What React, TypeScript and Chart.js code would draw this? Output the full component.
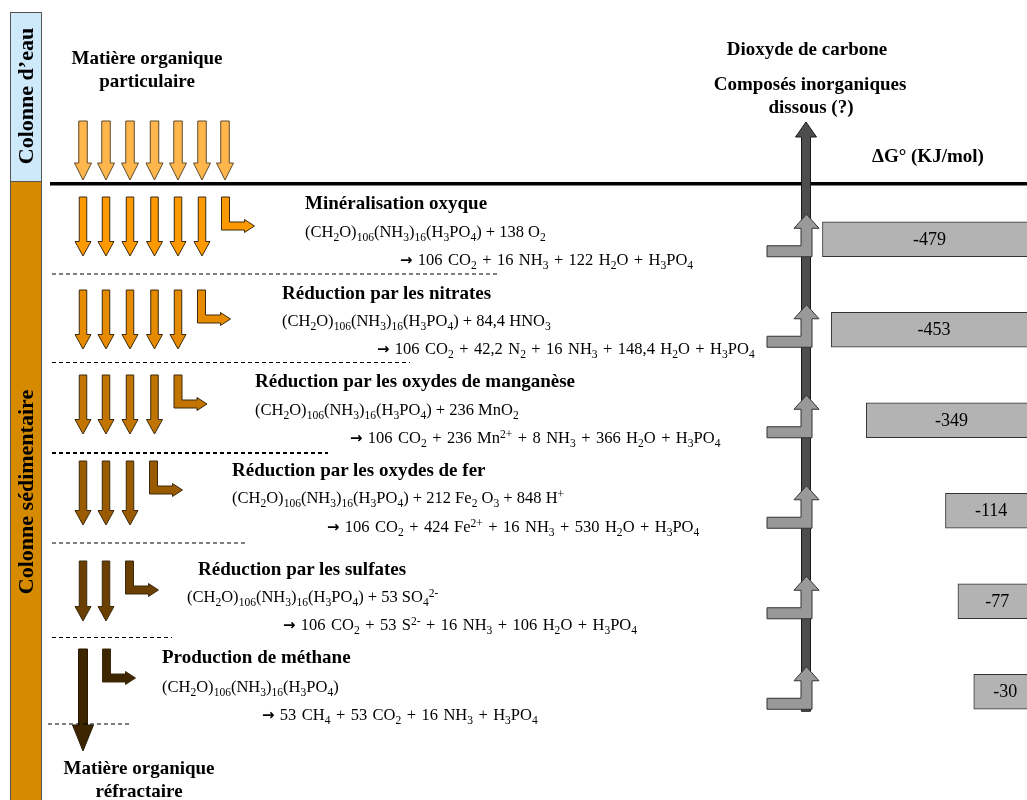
import React, { useEffect, useRef } from 'react';
import { Chart, registerables } from 'chart.js';

Chart.register(...registerables);

// ---------- DATA ----------
const processes = [
  'Minéralisation oxyque',
  'Réduction par les nitrates',
  'Réduction par les oxydes de manganèse',
  'Réduction par les oxydes de fer',
  'Réduction par les sulfates',
  'Production de méthane',
];
const deltaG = [-479, -453, -349, -114, -77, -30];
const reactants = [
  '(CH_{2}O)_{106}(NH_{3})_{16}(H_{3}PO_{4}) + 138 O_{2}',
  '(CH_{2}O)_{106}(NH_{3})_{16}(H_{3}PO_{4}) + 84,4 HNO_{3}',
  '(CH_{2}O)_{106}(NH_{3})_{16}(H_{3}PO_{4}) + 236 MnO_{2}',
  '(CH_{2}O)_{106}(NH_{3})_{16}(H_{3}PO_{4}) + 212 Fe_{2} O_{3} + 848 H^{+}',
  '(CH_{2}O)_{106}(NH_{3})_{16}(H_{3}PO_{4}) + 53 SO_{4}^{2-}',
  '(CH_{2}O)_{106}(NH_{3})_{16}(H_{3}PO_{4})',
];
const products = [
  '→ 106 CO_{2} + 16 NH_{3} + 122 H_{2}O + H_{3}PO_{4}',
  '→ 106 CO_{2} + 42,2 N_{2} + 16 NH_{3} + 148,4 H_{2}O + H_{3}PO_{4}',
  '→ 106 CO_{2} + 236 Mn^{2+} + 8 NH_{3} + 366 H_{2}O + H_{3}PO_{4}',
  '→ 106 CO_{2} + 424 Fe^{2+} + 16 NH_{3} + 530 H_{2}O + H_{3}PO_{4}',
  '→ 106 CO_{2} + 53 S^{2-} + 16 NH_{3} + 106 H_{2}O + H_{3}PO_{4}',
  '→ 53 CH_{4} + 53 CO_{2} + 16 NH_{3} + H_{3}PO_{4}',
];
const arrowCounts = [6, 5, 4, 3, 2, 1];
const topArrowCount = 7;
const xAxisMin = -700;
const xAxisMax = 128;
const barBase = 157;

// ---------- LAYOUT / STYLE ----------
const W = 1027;
const H = 800;
const SERIF = '"Liberation Serif", "Times New Roman", Times, serif';
const ARROW_X = [83, 106, 130, 154.5, 178, 202, 225];
const ROW_TOP = [197, 290, 375, 461, 561, 649];
const ROW_LEN = [59, 59, 59, 64, 60, 102];
const ROW_COLORS = ['#ff9900', '#e68a00', '#c27400', '#9a5a00', '#6b3f02', '#3d2500'];
const TITLE_X = [305, 282, 255, 232, 198, 162];
const EQ1_X = [305, 282, 255, 232, 187, 162];
const EQ2_X = [400, 377, 350, 327, 283, 262];
const TITLE_Y = [202, 292, 380, 469, 568, 656];
const EQ1_Y = [232, 321, 410, 498, 597, 687];
const EQ2_Y = [260, 349, 438, 527, 625, 715];
const DASH_Y = [274, 362.5, 453, 543, 637.5, 724];
const DASH_X = [[52, 499], [52, 410], [52, 328], [52, 248], [52, 172], [48, 130]];
const DASH_W = [1, 1, 2, 1, 1, 1];

function downArrow(ctx: CanvasRenderingContext2D, cx: number, top: number, len: number, sw: number, hw: number, hl: number, fill: string, stroke: string) {
  const tip = top + len;
  const hb = tip - hl;
  ctx.beginPath();
  ctx.moveTo(cx - sw / 2, top);
  ctx.lineTo(cx + sw / 2, top);
  ctx.lineTo(cx + sw / 2, hb);
  ctx.lineTo(cx + hw / 2, hb);
  ctx.lineTo(cx, tip);
  ctx.lineTo(cx - hw / 2, hb);
  ctx.lineTo(cx - sw / 2, hb);
  ctx.closePath();
  ctx.fillStyle = fill;
  ctx.fill();
  ctx.strokeStyle = stroke;
  ctx.lineWidth = 1;
  ctx.stroke();
}

function lArrowRight(ctx: CanvasRenderingContext2D, left: number, top: number, fill: string, stroke: string) {
  const w = 8, h = 33, len = 33, hl = 10, hh = 13;
  const tipX = left + len;
  const midY = top + h - w / 2;
  ctx.beginPath();
  ctx.moveTo(left, top);
  ctx.lineTo(left + w, top);
  ctx.lineTo(left + w, top + h - w);
  ctx.lineTo(tipX - hl, top + h - w);
  ctx.lineTo(tipX - hl, midY - hh / 2);
  ctx.lineTo(tipX, midY);
  ctx.lineTo(tipX - hl, midY + hh / 2);
  ctx.lineTo(tipX - hl, top + h);
  ctx.lineTo(left, top + h);
  ctx.closePath();
  ctx.fillStyle = fill;
  ctx.fill();
  ctx.strokeStyle = stroke;
  ctx.lineWidth = 1;
  ctx.stroke();
}

function lArrowUp(ctx: CanvasRenderingContext2D, bottom: number) {
  ctx.beginPath();
  ctx.moveTo(767, bottom);
  ctx.lineTo(812, bottom);
  ctx.lineTo(812, bottom - 28.5);
  ctx.lineTo(819, bottom - 28.5);
  ctx.lineTo(806.5, bottom - 42.5);
  ctx.lineTo(794, bottom - 28.5);
  ctx.lineTo(801, bottom - 28.5);
  ctx.lineTo(801, bottom - 11);
  ctx.lineTo(767, bottom - 11);
  ctx.closePath();
  ctx.fillStyle = '#999999';
  ctx.fill();
  ctx.strokeStyle = '#333333';
  ctx.lineWidth = 1;
  ctx.stroke();
}

const diagramPlugin = {
  id: 'diagram',
  beforeDraw(chart: any) {
    const ctx: CanvasRenderingContext2D = chart.ctx;
    ctx.save();
    // columns
    ctx.fillStyle = '#cde9fa';
    ctx.fillRect(10.5, 12.5, 31, 169);
    ctx.strokeStyle = '#555';
    ctx.lineWidth = 1;
    ctx.strokeRect(10.5, 12.5, 31, 169);
    ctx.fillStyle = '#d68a00';
    ctx.fillRect(10.5, 181.5, 31, 640);
    ctx.strokeRect(10.5, 181.5, 31, 640);
    // surface line
    ctx.fillStyle = '#000';
    ctx.fillRect(50, 182, W - 50, 3.5);
    // top arrows
    for (let i = 0; i < topArrowCount; i++) {
      downArrow(ctx, ARROW_X[i], 121, 59, 8.5, 17, 17, '#ffb74d', '#5c4a2a');
    }
    // rows
    for (let r = 0; r < arrowCounts.length; r++) {
      const n = arrowCounts[r];
      const last = r === arrowCounts.length - 1;
      for (let i = 0; i < n; i++) {
        if (last) downArrow(ctx, ARROW_X[i], ROW_TOP[r], ROW_LEN[r], 9, 21, 26, ROW_COLORS[r], '#2a1a05');
        else downArrow(ctx, ARROW_X[i], ROW_TOP[r], ROW_LEN[r], 7.5, 16, 14.5, ROW_COLORS[r], '#3a2a10');
      }
      lArrowRight(ctx, ARROW_X[n - 1] + 19.5, ROW_TOP[r], ROW_COLORS[r], '#3a2a10');
      // dashed separator
      ctx.beginPath();
      ctx.setLineDash([4, 3]);
      ctx.lineWidth = DASH_W[r];
      ctx.strokeStyle = '#000';
      ctx.moveTo(DASH_X[r][0], DASH_Y[r]);
      ctx.lineTo(DASH_X[r][1], DASH_Y[r]);
      ctx.stroke();
      ctx.setLineDash([]);
    }
    // big CO2 arrow
    const yScale = chart.scales.y;
    const half = 17.5;
    const lastBottom = yScale.getPixelForValue(deltaG.length - 1) + half;
    ctx.beginPath();
    ctx.moveTo(801.5, lastBottom + 2);
    ctx.lineTo(810.5, lastBottom + 2);
    ctx.lineTo(810.5, 137);
    ctx.lineTo(816.5, 137);
    ctx.lineTo(806, 122);
    ctx.lineTo(795.5, 137);
    ctx.lineTo(801.5, 137);
    ctx.closePath();
    ctx.fillStyle = '#4d4d4d';
    ctx.fill();
    ctx.strokeStyle = '#1a1a1a';
    ctx.lineWidth = 1;
    ctx.stroke();
    for (let i = 0; i < deltaG.length; i++) {
      lArrowUp(ctx, yScale.getPixelForValue(i) + half);
    }
    ctx.restore();
  },
  afterDatasetsDraw(chart: any) {
    const ctx: CanvasRenderingContext2D = chart.ctx;
    const meta = chart.getDatasetMeta(0);
    ctx.save();
    ctx.font = `18px ${SERIF}`;
    ctx.fillStyle = '#000';
    ctx.textAlign = 'center';
    ctx.textBaseline = 'middle';
    meta.data.forEach((el: any, i: number) => {
      const p = el.getProps(['x', 'y', 'base'], true);
      ctx.fillText(String(deltaG[i]), (p.x + p.base) / 2, p.y + 1);
    });
    ctx.restore();
  },
};

function chem(s: string) {
  const parts = s.split(/(_\{[^}]*\}|\^\{[^}]*\}|→)/).filter((p) => p !== '');
  return parts.map((p, i) => {
    if (p === '→')
      return (
        <span key={i} style={{ fontFamily: '"DejaVu Sans", sans-serif', fontWeight: 700, fontSize: '0.9em' }}>
          →
        </span>
      );
    if (p.startsWith('_{'))
      return (
        <span key={i} style={{ fontSize: '0.7em', position: 'relative', top: '0.32em' }}>
          {p.slice(2, -1)}
        </span>
      );
    if (p.startsWith('^{'))
      return (
        <span key={i} style={{ fontSize: '0.7em', position: 'relative', top: '-0.45em' }}>
          {p.slice(2, -1)}
        </span>
      );
    return <span key={i}>{p}</span>;
  });
}

function Txt(props: { x: number; y: number; size: number; bold?: boolean; center?: boolean; wordSpacing?: number; children: any }) {
  const { x, y, size, bold, center, children, wordSpacing } = props;
  return (
    <div
      style={{
        position: 'absolute',
        left: x,
        top: y,
        transform: center ? 'translate(-50%, -50%)' : 'translateY(-50%)',
        fontSize: size,
        fontWeight: bold ? 700 : 400,
        lineHeight: 1,
        whiteSpace: 'nowrap',
        fontFamily: SERIF,
        color: '#000',
        textAlign: 'center',
        wordSpacing: wordSpacing ?? 0,
      }}
    >
      {children}
    </div>
  );
}

function Rot(props: { x: number; y: number; children: any }) {
  return (
    <div
      style={{
        position: 'absolute',
        left: props.x,
        top: props.y,
        transform: 'translate(-50%, -50%) rotate(-90deg)',
        fontSize: 22,
        fontWeight: 700,
        lineHeight: 1,
        whiteSpace: 'nowrap',
        fontFamily: SERIF,
        color: '#000',
      }}
    >
      {props.children}
    </div>
  );
}

export default function App() {
  const ref = useRef<HTMLCanvasElement | null>(null);

  useEffect(() => {
    document.body.style.margin = '0';
    const canvas = ref.current;
    if (!canvas) return;
    const chart = new Chart(canvas, {
      type: 'bar',
      data: {
        labels: processes,
        datasets: [
          {
            data: deltaG,
            base: barBase,
            backgroundColor: '#b3b3b3',
            borderColor: '#333333',
            borderWidth: 1,
            borderSkipped: false,
            barThickness: 35,
          } as any,
        ],
      },
      options: {
        indexAxis: 'y',
        responsive: false,
        animation: false,
        devicePixelRatio: 1,
        layout: { padding: { left: 748, right: 0, top: 194, bottom: 63 } },
        scales: {
          x: { type: 'linear', min: xAxisMin, max: xAxisMax, display: false },
          y: { display: false },
        },
        plugins: { legend: { display: false }, tooltip: { enabled: false }, title: { display: false } },
      },
      plugins: [diagramPlugin],
    });
    return () => chart.destroy();
  }, []);

  return (
    <div style={{ position: 'relative', width: W, height: H, overflow: 'hidden', background: '#fff' }}>
      <style>{'body{margin:0}'}</style>
      <canvas ref={ref} width={W} height={H} style={{ position: 'absolute', left: 0, top: 0, width: W, height: H, display: 'block' }} />
      <Rot x={26} y={96}>Colonne d’eau</Rot>
      <Rot x={26} y={492}>Colonne sédimentaire</Rot>
      <Txt x={147} y={57} size={19} bold center>Matière organique</Txt>
      <Txt x={147} y={80} size={19} bold center>particulaire</Txt>
      <Txt x={807} y={48} size={19} bold center>Dioxyde de carbone</Txt>
      <Txt x={810} y={83} size={19} bold center>Composés inorganiques</Txt>
      <Txt x={811} y={106} size={19} bold center>dissous (?)</Txt>
      <Txt x={872} y={155} size={19} bold>ΔG° (KJ/mol)</Txt>
      {processes.map((p, i) => (
        <React.Fragment key={i}>
          <Txt x={TITLE_X[i]} y={TITLE_Y[i]} size={19} bold>{p}</Txt>
          <Txt x={EQ1_X[i]} y={EQ1_Y[i]} size={16.5}>{chem(reactants[i])}</Txt>
          <Txt x={EQ2_X[i]} y={EQ2_Y[i]} size={16.5} wordSpacing={1.3}>{chem(products[i])}</Txt>
        </React.Fragment>
      ))}
      <Txt x={139} y={767} size={19} bold center>Matière organique</Txt>
      <Txt x={139} y={790} size={19} bold center>réfractaire</Txt>
    </div>
  );
}
